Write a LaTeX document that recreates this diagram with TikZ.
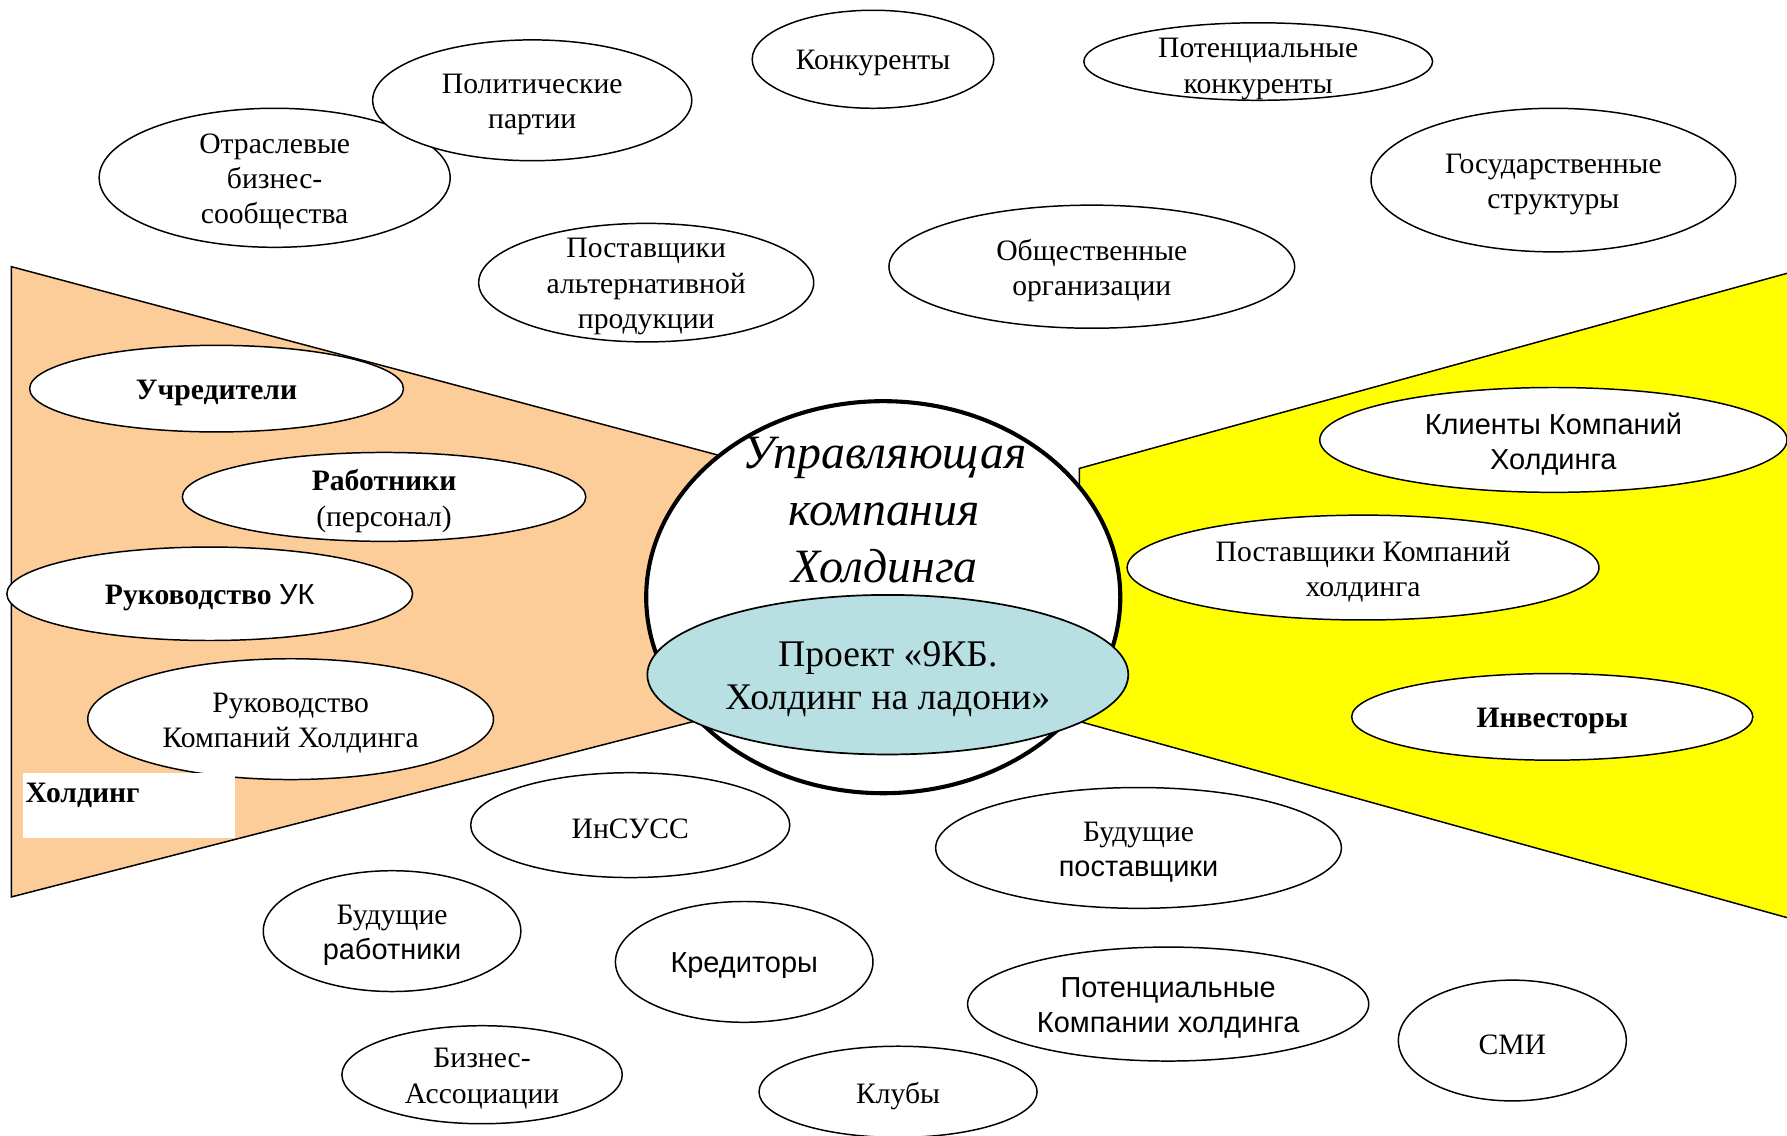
\documentclass[tikz,border=0pt]{standalone}
\usepackage{fontspec}
\setmainfont{Liberation Serif}
\setsansfont{Liberation Sans}
\usetikzlibrary{shapes.geometric}
\definecolor{peach}{RGB}{252,204,153}
\definecolor{lblue}{RGB}{184,223,226}
\definecolor{yel}{RGB}{255,255,0}
\newcommand{\mysans}{\sffamily\fontsize{12.7}{15.5}\selectfont}
\newcommand{\ovnode}[6]{%
  \node[ov, minimum width=#4pt, minimum height=#5pt] (#1) at (#2,#3) {};
  \node[lbl] (#1t) at (#1.center) {#6};}
\begin{document}
\begin{tikzpicture}[x=0.5pt,y=-0.5pt,
  ov/.style={ellipse, draw=black, fill=white, line width=0.65pt, inner sep=0pt, outer sep=0pt},
  lbl/.style={align=center, inner sep=0pt, yshift=-1.8pt, font=\fontsize{13}{15.5}\selectfont},
  poly/.style={draw=black, line width=0.65pt}]
\clip (0,0) rectangle (1568,996);
\fill[white] (0,0) rectangle (1568,996);
% sectors
\coordinate (oa) at (10,234);
\coordinate (ob) at (640,402);
\coordinate (oc) at (640,625);
\coordinate (od) at (10,787);
\filldraw[poly, fill=peach] (oa) -- (ob) -- (oc) -- (od) -- cycle;
\coordinate (ya) at (947,411);
\coordinate (yb) at (1600,231);
\coordinate (yc) at (1600,814);
\coordinate (yd) at (947,633);
\filldraw[poly, fill=yel] (ya) -- (yb) -- (yc) -- (yd) -- cycle;
% top group
\ovnode{otr}{241}{156}{154}{61}{Отраслевые\\бизнес-\\сообщества}
\ovnode{pol}{467}{88}{140}{53}{Политические\\партии}
\ovnode{kon}{766}{52}{106}{43}{Конкуренты}
\node[ov, minimum width=153pt, minimum height=34pt] (pkon) at (1104,54) {};
\node[lbl] (pkont) at (1104,57) {Потенциальные\\конкуренты};
\ovnode{gos}{1363}{158}{160}{63}{Государственные\\структуры}
\ovnode{palt}{567}{248}{147}{52}{Поставщики\\альтернативной\\продукции}
\ovnode{obs}{958}{234}{178}{54}{Общественные\\организации}
% holding group
\ovnode{uch}{190}{341}{164}{38}{{\bfseries Учредители}}
\ovnode{rab}{337}{436}{177}{39}{{\bfseries Работники}\\(персонал)}
\ovnode{ruk}{184}{521}{178}{41}{{\bfseries Руководство} {\mysans УК}}
\ovnode{rkh}{255}{631}{178}{53}{Руководство\\Компаний Холдинга}
\node[fill=white, inner sep=0pt, minimum width=93pt, minimum height=28.5pt, anchor=north west] (hbox) at (20,678) {};
\node[anchor=west, inner sep=0pt, font=\fontsize{13}{15.5}\selectfont\bfseries] (hboxt) at (22,698) {Холдинг};
% center
\node[ellipse, draw=black, fill=white, line width=1.8pt, minimum width=208pt, minimum height=172pt, inner sep=0pt] (uk) at (775,524) {};
\node[align=center, inner sep=0pt, font=\fontsize{21}{25}\selectfont\itshape] (ukt) at (776,448) {Управляющая\\компания\\Холдинга};
\node[ellipse, draw=black, fill=lblue, line width=0.75pt, minimum width=211pt, minimum height=70pt, inner sep=0pt] (prj) at (779,592) {};
\node[align=center, inner sep=0pt, font=\fontsize{16.5}{19}\selectfont] (prjt) at (779,596) {Проект «9КБ.\\Холдинг на ладони»};
% right group
\ovnode{kli}{1363}{386}{205}{46}{{\mysans Клиенты Компаний}\\{\mysans Холдинга}}
\ovnode{pkh}{1196}{498}{207}{46}{Поставщики Компаний\\холдинга}
\ovnode{inv}{1362}{629}{176}{38}{{\bfseries Инвесторы}}
% bottom group
\ovnode{ins}{553}{724}{140}{46}{ИнСУСС}
\ovnode{bpo}{999}{744}{178}{53}{Будущие\\{\mysans поставщики}}
\ovnode{bra}{344}{817}{113}{53}{Будущие\\{\mysans работники}}
\ovnode{kre}{653}{844}{113}{53}{{\mysans Кредиторы}}
\ovnode{pkx}{1025}{881}{176}{50}{{\mysans Потенциальные}\\{\mysans Компании холдинга}}
\ovnode{smi}{1327}{913}{100}{53}{СМИ}
\ovnode{bas}{423}{943}{123}{43}{Бизнес-\\Ассоциации}
\ovnode{klu}{788}{958}{122}{40}{Клубы}
\end{tikzpicture}
\end{document}
